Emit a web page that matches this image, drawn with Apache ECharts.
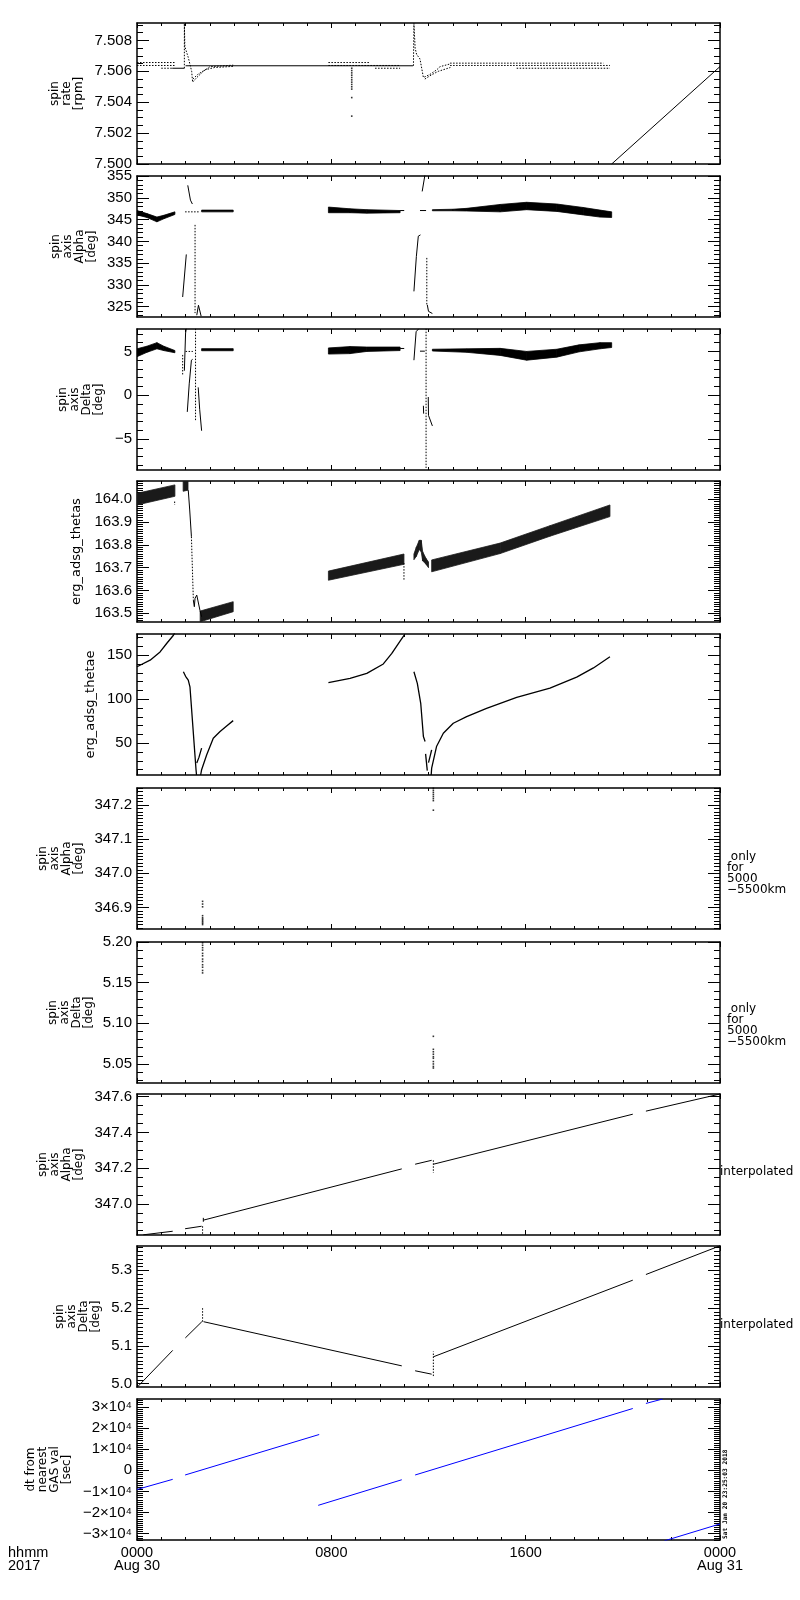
<!DOCTYPE html>
<html><head><meta charset="utf-8">
<script src="https://cdn.jsdelivr.net/npm/echarts@6/dist/echarts.min.js"></script>
<style>html,body{margin:0;padding:0;background:#fff}#c{width:800px;height:1600px}</style>
</head><body><div id="c"></div>
<script>
// ================= DATA (x = hours since 0000 Aug 30 2017) =================
const HOUR_TICKS = [0, 8, 16, 24];
const HOUR_LABELS = ['0000\nAug 30', '0800', '1600', '0000\nAug 31'];

// ---- Panel 1: spin rate [rpm]
const P1_TICKS = [7.500, 7.502, 7.504, 7.506, 7.508];
const P1_LABELS = ['7.500', '7.502', '7.504', '7.506', '7.508'];
const P1_SOLID = [
  [[1.45, 7.5062], [1.95, 7.5062]],
  [[2.0, 7.50636], [11.36, 7.50636]],
  [[19.54, 7.5000], [24.0, 7.50631]]
];
const P1_DOTTED = [
  [[0.0, 7.50657], [1.55, 7.50657]],
  [[0.0, 7.50638], [1.55, 7.50638]],
  [[1.0, 7.5062], [1.45, 7.5062]],
  [[1.95, 7.5062], [1.95, 7.5091], [1.97, 7.5076], [2.04, 7.5075], [2.11, 7.5069], [2.25, 7.5060], [2.29, 7.5053], [2.46, 7.5056], [2.73, 7.5060], [3.0, 7.5063], [3.96, 7.5064]],
  [[2.3, 7.5055], [2.5, 7.5058], [2.8, 7.5061], [3.2, 7.50625], [3.96, 7.50632]],
  [[7.88, 7.50657], [9.6, 7.50657]],
  [[7.88, 7.50638], [10.83, 7.50638]],
  [[9.8, 7.5062], [10.83, 7.5062]],
  [[11.38, 7.50636], [11.4, 7.5091], [11.45, 7.5075], [11.51, 7.5071], [11.65, 7.5068], [11.72, 7.5062], [11.79, 7.5056], [12.06, 7.5058], [12.34, 7.5061], [12.47, 7.5063], [12.89, 7.50648]],
  [[11.85, 7.5055], [12.1, 7.50575], [12.4, 7.5060], [12.9, 7.50625]],
  [[12.89, 7.50653], [19.2, 7.50653]],
  [[12.89, 7.50638], [19.47, 7.50638]],
  [[15.63, 7.5062], [19.47, 7.5062]]
];
const P1_DOTS = [[8.84, 7.5062], [8.84, 7.50605], [8.84, 7.5059], [8.84, 7.50575], [8.84, 7.5056], [8.84, 7.50545], [8.84, 7.5053], [8.84, 7.50515], [8.84, 7.5050], [8.84, 7.50485], [8.84, 7.5043], [8.84, 7.5031]];

// ---- Panel 2: spin axis Alpha [deg]   bands: [hour, low, high]
const P2_TICKS = [325, 330, 335, 340, 345, 350, 355];
const P2_LABELS = ['325', '330', '335', '340', '345', '350', '355'];
const P2_BANDS = [
  [[0.0, 346.1, 347.1], [0.41, 345.5, 346.4], [0.82, 344.5, 345.6], [1.1, 345.2, 346.0], [1.56, 346.2, 346.8]],
  [[2.66, 346.8, 347.2], [3.96, 346.8, 347.2]],
  [[7.88, 346.6, 347.9], [8.77, 346.6, 347.5], [9.46, 346.5, 347.3], [10.83, 346.6, 347.1]],
  [[12.16, 347.05, 347.3], [13.0, 347.05, 347.4], [13.57, 347.0, 347.6], [14.95, 346.8, 348.5], [16.04, 347.3, 349.0], [17.28, 346.9, 348.6], [18.37, 346.1, 347.8], [19.06, 345.6, 347.2], [19.54, 345.5, 346.8]]
];
const P2_SOLID = [
  [[1.88, 327.2], [2.03, 337.0]],
  [[2.09, 352.9], [2.2, 349.5], [2.28, 348.6]],
  [[2.46, 323.0], [2.53, 325.3], [2.64, 322.8]],
  [[10.83, 347.1], [11.0, 347.1]],
  [[11.4, 328.5], [11.5, 336.5], [11.58, 341.2], [11.67, 341.5]],
  [[11.65, 347.1], [11.9, 347.1]],
  [[11.74, 351.5], [11.86, 355.5]],
  [[11.95, 325.4], [12.0, 323.9], [12.02, 323.5], [12.16, 323.4]]
];
const P2_DOTTED = [
  [[1.98, 346.8], [2.6, 346.8]],
  [[2.39, 343.8], [2.39, 323.5]],
  [[11.93, 336.2], [11.93, 325.4]]
];

// ---- Panel 3: spin axis Delta [deg]
const P3_TICKS = [-5, 0, 5];
const P3_LABELS = ['\u22125', '0', '5'];
const P3_BANDS = [
  [[0.0, 4.4, 5.3], [0.41, 4.9, 5.6], [0.82, 5.3, 6.0], [1.1, 5.1, 5.6], [1.56, 4.85, 5.1]],
  [[2.66, 5.08, 5.32], [3.96, 5.08, 5.32]],
  [[7.88, 4.7, 5.4], [8.77, 4.75, 5.55], [9.46, 5.0, 5.5], [10.83, 5.1, 5.5]],
  [[12.16, 5.05, 5.25], [13.57, 4.9, 5.3], [14.95, 4.55, 5.35], [16.04, 4.0, 5.0], [17.28, 4.35, 5.25], [18.2, 4.95, 5.75], [19.06, 5.3, 6.0], [19.54, 5.45, 6.0]]
];
const P3_SOLID = [
  [[1.95, 2.8], [2.0, 7.1], [2.03, 7.6]],
  [[2.07, -1.9], [2.15, 1.3], [2.24, 4.0], [2.29, 4.1]],
  [[2.52, 0.9], [2.58, -1.6], [2.66, -4.05]],
  [[10.83, 5.34], [11.0, 5.34]],
  [[11.4, 4.0], [11.49, 7.25], [11.6, 7.6]],
  [[11.65, 5.03], [11.85, 5.03]],
  [[11.79, -1.2], [11.8, -2.1]],
  [[11.99, -0.2], [12.0, -2.3], [12.16, -3.5]]
];
const P3_DOTTED = [
  [[1.88, 4.6], [1.88, 2.3]],
  [[2.41, 7.6], [2.41, -2.9]],
  [[11.9, 7.6], [11.9, -8.3]],
  [[2.0, 5.0], [2.3, 5.0]]
];

// ---- Panel 4: erg_adsg_thetas
const P4_TICKS = [163.5, 163.6, 163.7, 163.8, 163.9, 164.0];
const P4_LABELS = ['163.5', '163.6', '163.7', '163.8', '163.9', '164.0'];
const P4_BANDS = [
  [[0.0, 163.975, 164.026], [1.56, 164.013, 164.063]],
  [[1.9, 164.035, 164.08], [2.1, 164.04, 164.08]],
  [[2.6, 163.463, 163.51], [3.96, 163.507, 163.551]],
  [[7.88, 163.645, 163.685], [10.99, 163.715, 163.76]],
  [[11.4, 163.735, 163.76], [11.5, 163.75, 163.79], [11.62, 163.78, 163.82], [11.7, 163.77, 163.82], [11.76, 163.73, 163.77], [11.9, 163.715, 163.74], [12.0, 163.70, 163.725]],
  [[12.13, 163.682, 163.734], [14.95, 163.762, 163.808], [17.0, 163.838, 163.884], [19.47, 163.924, 163.975]]
];
const P4_SOLID = [
  [[2.11, 164.04], [2.17, 163.953], [2.24, 163.836]],
  [[2.32, 163.558], [2.36, 163.529], [2.39, 163.566], [2.46, 163.58], [2.59, 163.514], [2.66, 163.485]]
];
const P4_DOTTED = [
  [[2.24, 163.836], [2.32, 163.558]],
  [[10.99, 163.72], [10.99, 163.646]],
  [[1.55, 163.99], [1.55, 163.975]]
];

// ---- Panel 5: erg_adsg_thetae
const P5_TICKS = [50, 100, 150];
const P5_LABELS = ['50', '100', '150'];
const P5_SOLID = [
  [[0.0, 136.8], [0.54, 144.3], [0.95, 153.7], [1.22, 163.2], [1.5, 172.6], [1.55, 175]],
  [[1.91, 131.1], [2.0, 126.0], [2.11, 121.7], [2.18, 114.1], [2.29, 72.7], [2.39, 35.0], [2.43, 20.0], [2.45, 14.0]],
  [[2.46, 27.5], [2.55, 34.0], [2.66, 44.5]],
  [[2.62, 14.0], [2.66, 20.0], [2.87, 36.9], [3.14, 55.8], [3.42, 63.3], [3.69, 69.6], [3.96, 75.7]],
  [[7.88, 118.7], [8.77, 123.6], [9.46, 129.3], [10.14, 140.0], [10.49, 152.0], [10.83, 166.0], [11.0, 172.6]],
  [[11.4, 131.1], [11.54, 118.0], [11.68, 95.4], [11.79, 57.6], [11.86, 52.0]],
  [[11.88, 38.0], [11.95, 19.0]],
  [[12.0, 28.0], [12.13, 42.5]],
  [[12.11, 14.0], [12.13, 21.8], [12.33, 46.3], [12.61, 61.4], [13.02, 72.7], [13.57, 80.2], [14.39, 89.7], [15.63, 102.1], [17.0, 112.5], [18.1, 125.0], [18.79, 135.5], [19.47, 148.1]]
];

// ---- Panel 6: spin axis Alpha [deg] (only for 5000-5500km)
const P6_TICKS = [346.9, 347.0, 347.1, 347.2];
const P6_LABELS = ['346.9', '347.0', '347.1', '347.2'];
const P6_DOTS = [[2.7, 346.918], [2.7, 346.91], [2.7, 346.902], [2.7, 346.876], [2.7, 346.87], [2.7, 346.866], [2.7, 346.862], [2.7, 346.858], [2.7, 346.854], [2.7, 346.85],
  [12.2, 347.249], [12.2, 347.243], [12.2, 347.237], [12.2, 347.231], [12.2, 347.225], [12.2, 347.219], [12.2, 347.213], [12.2, 347.185]];

// ---- Panel 7: spin axis Delta [deg] (only for 5000-5500km)
const P7_TICKS = [5.05, 5.10, 5.15, 5.20];
const P7_LABELS = ['5.05', '5.10', '5.15', '5.20'];
const P7_DOTS = [[2.7, 5.199], [2.7, 5.196], [2.7, 5.193], [2.7, 5.19], [2.7, 5.186], [2.7, 5.183], [2.7, 5.179], [2.7, 5.176], [2.7, 5.172], [2.7, 5.169], [2.7, 5.165], [2.7, 5.162],
  [12.2, 5.084], [12.2, 5.068], [12.2, 5.065], [12.2, 5.062], [12.2, 5.059], [12.2, 5.057], [12.2, 5.053], [12.2, 5.05], [12.2, 5.047], [12.2, 5.045]];

// ---- Panel 8: spin axis Alpha [deg] interpolated
const P8_TICKS = [347.0, 347.2, 347.4, 347.6];
const P8_LABELS = ['347.0', '347.2', '347.4', '347.6'];
const P8_SOLID = [
  [[0.26, 346.827], [1.47, 346.847]],
  [[1.98, 346.861], [2.66, 346.875]],
  [[2.73, 346.90], [2.73, 346.922]],
  [[2.73, 346.909], [10.9, 347.196]],
  [[11.45, 347.222], [12.13, 347.244]],
  [[12.2, 347.222], [20.41, 347.502]],
  [[20.95, 347.519], [24.0, 347.615]]
];
const P8_DOTTED = [
  [[2.7, 346.875], [2.7, 346.826]],
  [[12.2, 347.244], [12.2, 347.174]]
];

// ---- Panel 9: spin axis Delta [deg] interpolated
const P9_TICKS = [5.0, 5.1, 5.2, 5.3];
const P9_LABELS = ['5.0', '5.1', '5.2', '5.3'];
const P9_SOLID = [
  [[0.0, 4.99], [1.47, 5.088]],
  [[1.99, 5.121], [2.67, 5.164]],
  [[2.74, 5.164], [10.9, 5.047]],
  [[11.45, 5.034], [12.13, 5.025]],
  [[12.2, 5.071], [20.41, 5.274]],
  [[20.95, 5.289], [24.0, 5.365]]
];
const P9_DOTTED = [
  [[2.7, 5.164], [2.7, 5.202]],
  [[12.2, 5.02], [12.2, 5.085]]
];

// ---- Panel 10: dt from nearest GAS val [sec]
const P10_TICKS = [-30000, -20000, -10000, 0, 10000, 20000, 30000];
const P10_LABELS = ['\u22123\u00d710\u2074', '\u22122\u00d710\u2074', '\u22121\u00d710\u2074', '0', '1\u00d710\u2074', '2\u00d710\u2074', '3\u00d710\u2074'];
const P10_SOLID = [
  [[0.0, -9100], [1.47, -4300]],
  [[1.98, -2250], [7.5, 16900]],
  [[7.46, -16600], [10.9, -4500]],
  [[11.45, -2250], [20.41, 29200]],
  [[20.95, 31600], [21.64, 33700]],
  [[21.71, -33400], [24.0, -25400]]
];

// ================= LAYOUT / STYLE =================
const GRID_TOPS = [23, 176, 329, 481, 634, 788, 942, 1094, 1246, 1399];
const GRID_H = 141, GRID_LEFT = 137, GRID_RIGHT = 80;
const SPIN_A = 'spin\naxis\nAlpha\n[deg]', SPIN_D = 'spin\naxis\nDelta\n[deg]';

const PANELS = [
  {min: 7.5, max: 7.50913, ticks: P1_TICKS, labels: P1_LABELS, minor: 0.0005, name: 'spin\nrate\n[rpm]', gap: 52, solid: P1_SOLID, dotted: P1_DOTTED, dots: P1_DOTS},
  {min: 322.6, max: 355.05, ticks: P2_TICKS, labels: P2_LABELS, minor: 1, name: SPIN_A, gap: 39, bands: P2_BANDS, solid: P2_SOLID, dotted: P2_DOTTED},
  {min: -8.53, max: 7.56, ticks: P3_TICKS, labels: P3_LABELS, minor: 1, name: SPIN_D, gap: 32, bands: P3_BANDS, solid: P3_SOLID, dotted: P3_DOTTED},
  {min: 163.462, max: 164.08, ticks: P4_TICKS, labels: P4_LABELS, minor: 0.01, name: 'erg_adsg_thetas', nameSize: 13, gap: 54, bands: P4_BANDS, solid: P4_SOLID, dotted: P4_DOTTED, bandColor: '#1a1a1a'},
  {min: 14, max: 174, ticks: P5_TICKS, labels: P5_LABELS, minor: 10, name: 'erg_adsg_thetae', nameSize: 13, gap: 40, solid: P5_SOLID, width: 1.3},
  {min: 346.837, max: 347.25, ticks: P6_TICKS, labels: P6_LABELS, minor: 0.01, name: SPIN_A, gap: 52, dots: P6_DOTS},
  {min: 5.0266, max: 5.2, ticks: P7_TICKS, labels: P7_LABELS, minor: 0.01, name: SPIN_D, gap: 42, dots: P7_DOTS},
  {min: 346.826, max: 347.615, ticks: P8_TICKS, labels: P8_LABELS, minor: 0.05, name: SPIN_A, gap: 52, solid: P8_SOLID, dotted: P8_DOTTED},
  {min: 4.991, max: 5.3645, ticks: P9_TICKS, labels: P9_LABELS, minor: 0.01, name: SPIN_D, gap: 35, solid: P9_SOLID, dotted: P9_DOTTED},
  {min: -33000, max: 33700, ticks: P10_TICKS, labels: P10_LABELS, minor: 1000, name: 'dt from\nnearest\nGAS val\n[sec]', gap: 64, solid: P10_SOLID, color: '#0000ff'}
];

function steps(min, max, step) {
  const out = [];
  const n0 = Math.ceil(min / step - 1e-9), n1 = Math.floor(max / step + 1e-9);
  for (let n = n0; n <= n1; n++) out.push(+(n * step).toFixed(6));
  return out;
}
function fmtFrom(ticks, labels) {
  return function (v) {
    let k = 0, b = Infinity;
    ticks.forEach(function (t, i) { const d = Math.abs(t - v); if (d < b) { b = d; k = i; } });
    return labels[k];
  };
}
const HOUR_MINOR = steps(0, 24, 1);
const LINE = {color: '#000', width: 1.5};
const TICK = {color: '#000', width: 1};

const grids = [], xAxes = [], yAxes = [], series = [];

PANELS.forEach(function (p, i) {
  grids.push({left: GRID_LEFT, right: GRID_RIGHT, top: GRID_TOPS[i], height: GRID_H, containLabel: false});
  const last = i === PANELS.length - 1;
  const xi = xAxes.length;
  function xAx(pos, ticks, len, showLine, showLabel) {
    return {type: 'value', gridIndex: i, position: pos, min: 0, max: 24,
      axisLine: {show: showLine, onZero: false, lineStyle: LINE},
      axisTick: {show: true, inside: true, length: len, customValues: ticks, lineStyle: TICK},
      axisLabel: {show: showLabel, customValues: HOUR_TICKS, formatter: fmtFrom(HOUR_TICKS, HOUR_LABELS),
        color: '#000', fontFamily: 'Liberation Sans', fontSize: 14.5, lineHeight: 12.5, margin: 7},
      splitLine: {show: false}};
  }
  xAxes.push(xAx('bottom', HOUR_TICKS, 5, true, last));
  xAxes.push(xAx('bottom', HOUR_MINOR, 3, false, false));
  xAxes.push(xAx('top', HOUR_TICKS, 5, true, false));
  xAxes.push(xAx('top', HOUR_MINOR, 3, false, false));

  const yi = yAxes.length;
  const minors = steps(p.min, p.max, p.minor);
  function yAx(pos, ticks, len, showLine, main) {
    const a = {type: 'value', gridIndex: i, position: pos, min: p.min, max: p.max,
      axisLine: {show: showLine, onZero: false, lineStyle: LINE},
      axisTick: {show: true, inside: true, length: len, customValues: ticks, lineStyle: TICK},
      axisLabel: {show: main, customValues: p.ticks, formatter: fmtFrom(p.ticks, p.labels), margin: 5,
        color: '#000', fontFamily: 'Liberation Sans', fontSize: 15},
      splitLine: {show: false}};
    if (main) {
      a.name = p.name; a.nameLocation = 'middle'; a.nameGap = p.gap; a.nameRotate = 90;
      a.nameMoveOverlap = false;
      a.nameTextStyle = {color: '#000', fontFamily: 'DejaVu Sans', fontSize: p.nameSize || 12, lineHeight: 12};
    }
    return a;
  }
  yAxes.push(yAx('left', p.ticks, 12, true, true));
  yAxes.push(yAx('left', minors, 6, false, false));
  yAxes.push(yAx('right', p.ticks, 12, true, false));
  yAxes.push(yAx('right', minors, 6, false, false));

  const color = p.color || '#000';
  const base = {xAxisIndex: xi, yAxisIndex: yi, silent: true, animation: false, clip: true};
  (p.bands || []).forEach(function (b) {
    const fill = p.bandColor || color;
    series.push(Object.assign({}, base, {
      type: 'custom', data: b, encode: {x: 0, y: [1, 2]},
      renderItem: function (params, api) {
        const k = params.dataIndex;
        if (k >= b.length - 1) return null;
        const r0 = b[k], r1 = b[k + 1];
        return {type: 'polygon', shape: {points: [api.coord([r0[0], r0[1]]), api.coord([r1[0], r1[1]]), api.coord([r1[0], r1[2]]), api.coord([r0[0], r0[2]])]},
          style: {fill: fill, stroke: fill, lineWidth: 0.8}};
      }
    }));
  });
  (p.solid || []).forEach(function (seg) {
    series.push(Object.assign({}, base, {type: 'line', data: seg, symbol: 'none', showSymbol: false, lineStyle: {color: color, width: p.width || 1}}));
  });
  (p.dotted || []).forEach(function (seg) {
    series.push(Object.assign({}, base, {type: 'line', data: seg, symbol: 'none', showSymbol: false, lineStyle: {color: color, width: 1, type: [1.5, 1.5]}}));
  });
  if (p.dots) {
    series.push(Object.assign({}, base, {type: 'scatter', data: p.dots, symbol: 'rect', symbolSize: 1.6, itemStyle: {color: color}}));
  }
});

const TXT = {fill: '#000', fontFamily: 'DejaVu Sans', fontSize: 12, lineHeight: 11};
const graphic = [
  {type: 'text', x: 8, y: 1547, style: Object.assign({}, TXT, {text: 'hhmm\n2017', fontFamily: 'Liberation Sans', fontSize: 14.5, lineHeight: 12.5, align: 'left', verticalAlign: 'top'})},
  {type: 'text', x: 727, y: 851, style: Object.assign({}, TXT, {text: ' only\nfor\n5000\n\u22125500km', align: 'left', verticalAlign: 'top'})},
  {type: 'text', x: 727, y: 1003, style: Object.assign({}, TXT, {text: ' only\nfor\n5000\n\u22125500km', align: 'left', verticalAlign: 'top'})},
  {type: 'text', x: 720, y: 1172, style: Object.assign({}, TXT, {text: 'interpolated', align: 'left', verticalAlign: 'middle'})},
  {type: 'text', x: 720, y: 1325, style: Object.assign({}, TXT, {text: 'interpolated', align: 'left', verticalAlign: 'middle'})},
  {type: 'text', x: 725, y: 1539, rotation: Math.PI / 2, style: {text: 'Sat Jan 20 23:25:03 2018', fill: '#000', fontFamily: 'DejaVu Sans Mono', fontWeight: 'bold', fontSize: 6.2, align: 'left', verticalAlign: 'middle'}}
];

const chart = echarts.init(document.getElementById('c'), null, {renderer: 'canvas'});
chart.setOption({
  backgroundColor: '#fff',
  animation: false,
  grid: grids,
  xAxis: xAxes,
  yAxis: yAxes,
  series: series,
  graphic: graphic
});
</script>
</body></html>
